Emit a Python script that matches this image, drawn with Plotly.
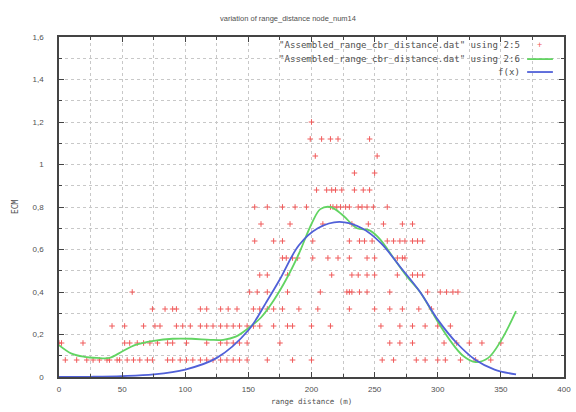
import plotly.graph_objects as go

# ---------------- data ----------------
# scatter points (red "+"), grouped by their discrete y level
levels = [0.08, 0.16, 0.24, 0.32, 0.40, 0.48, 0.56, 0.64, 0.72, 0.80, 0.88, 0.96, 1.04, 1.12, 1.20]
rows_x = [
    [5, 14, 22, 27, 32, 38, 40, 46, 48, 54, 59, 64, 70, 74, 86, 90, 96, 101, 106, 112, 117, 122,
     128, 133, 138, 143, 149, 165, 185, 200, 256, 265, 283, 290, 300, 306, 318, 330, 342],
    [0, 2, 19, 52, 56, 62, 67, 72, 78, 86, 90, 101, 117, 128, 133, 138, 143, 149, 175,
     262, 270, 280, 305, 315, 325, 335, 350],
    [42, 52, 67, 76, 80, 93, 98, 104, 112, 117, 122, 128, 133, 138, 143, 149, 154, 159, 170,
     181, 185, 200, 215, 255, 270, 280, 290, 300, 310],
    [74, 84, 90, 93, 112, 117, 128, 134, 141, 154, 159, 165, 170, 177, 190, 205, 230, 250,
     262, 272, 285, 295],
    [58, 151, 157, 165, 181, 207, 228, 230, 232, 238, 244, 262, 292, 302, 307, 312, 316],
    [159, 165, 181, 216, 232, 237, 244, 250, 268, 280, 284, 288],
    [177, 180, 185, 189, 201, 213, 221, 230, 244, 250, 268, 272, 274],
    [155, 170, 177, 201, 230, 238, 242, 248, 260, 265, 270, 274, 280, 284, 288],
    [160, 183, 209, 232, 245, 257, 272, 280],
    [155, 165, 177, 187, 196, 215, 217, 220, 223, 227, 230, 237, 240, 244, 249, 260],
    [204, 212, 216, 219, 224, 234, 241, 246],
    [234, 250],
    [203, 252],
    [199, 208, 215, 221, 246],
    [200],
]

# smoothed data curve (green)
green_x = [0, 10, 20, 30, 40, 50, 60, 75, 90, 105, 120, 130, 140, 150, 160, 170, 180, 190,
           200, 207, 215, 225, 236, 246, 254, 265, 276, 286, 300, 310, 320, 330, 340, 350, 362]
green_y = [0.15, 0.11, 0.095, 0.09, 0.09, 0.12, 0.15, 0.17, 0.18, 0.18, 0.175, 0.175, 0.19,
           0.23, 0.28, 0.36, 0.46, 0.58, 0.72, 0.79, 0.80, 0.76, 0.70, 0.69, 0.65, 0.56, 0.47,
           0.40, 0.26, 0.17, 0.10, 0.07, 0.09, 0.17, 0.31]

# fitted function f(x) (blue)
blue_x = [0, 25, 50, 75, 100, 125, 150, 165, 175, 190, 205, 222, 240, 255, 270, 286, 300,
          315, 330, 345, 362]
blue_y = [0.0, 0.001, 0.004, 0.012, 0.035, 0.09, 0.22, 0.36, 0.46, 0.62, 0.70, 0.73, 0.70,
          0.63, 0.52, 0.40, 0.27, 0.16, 0.08, 0.035, 0.012]

title_text = "variation of range_distance node_num14"
x_label = "range distance (m)"
y_label = "ECM"
legend_labels = ['"Assembled_range_cbr_distance.dat" using 2:5',
                 '"Assembled_range_cbr_distance.dat" using 2:6',
                 'f(x)']

RED = "#f05a5a"
GREEN = "#62d462"
BLUE = "#5060d8"
FONT = "Liberation Sans"
MONO = "DejaVu Sans Mono"
TXT = "#505050"

# ---------------- figure ----------------
pts_x, pts_y = [], []
for lv, xs in zip(levels, rows_x):
    for xv in xs:
        pts_x.append(xv)
        pts_y.append(lv)

fig = go.Figure()
fig.add_trace(go.Scatter(
    x=pts_x, y=pts_y, mode="markers",
    marker=dict(symbol="cross-thin", size=4, line=dict(color=RED, width=1), color=RED),
    showlegend=False, hoverinfo="skip"))
fig.add_trace(go.Scatter(
    x=green_x, y=green_y, mode="lines", line=dict(color=GREEN, width=1.8, shape="spline"),
    showlegend=False))
fig.add_trace(go.Scatter(
    x=blue_x, y=blue_y, mode="lines", line=dict(color=BLUE, width=1.8, shape="spline"),
    showlegend=False))

grid_col = "#c8c8c8"
axis_common = dict(
    automargin=False,
    showline=True, linecolor="#444444", linewidth=1.5, mirror="allticks",
    ticks="inside", ticklen=5, tickcolor="#444444", tickwidth=1,
    showgrid=True, gridcolor=grid_col, griddash="dot", gridwidth=1,
    zeroline=False, tickfont=dict(family=FONT, size=8, color=TXT),
)
fig.update_xaxes(range=[0, 400], dtick=50, tick0=0, ticklabelstandoff=4,
                 minor=dict(dtick=25, ticks="inside", ticklen=3, tickcolor="#444444",
                            showgrid=True, gridcolor=grid_col, griddash="dot"),
                 **axis_common)
fig.update_yaxes(range=[0, 1.6], dtick=0.2, tick0=0, ticklabelstandoff=12,
                 minor=dict(dtick=0.1, ticks="inside", ticklen=3, tickcolor="#444444",
                            showgrid=True, gridcolor=grid_col, griddash="dot"),
                 **axis_common)

# legend drawn gnuplot-style (text, then sample)
leg_y = [0.976, 0.935, 0.897]
annotations = []
shapes = []
for i, lab in enumerate(legend_labels):
    annotations.append(dict(x=0.917, y=leg_y[i], xref="paper", yref="paper", text=lab,
                            showarrow=False, xanchor="right", yanchor="middle",
                            font=dict(family=MONO, size=9.1, color=TXT)))
annotations.append(dict(x=0.952, y=leg_y[0], xref="paper", yref="paper", text="+",
                        showarrow=False, xanchor="center", yanchor="middle",
                        font=dict(family=FONT, size=9, color=RED)))
for i, col in ((1, GREEN), (2, BLUE)):
    shapes.append(dict(type="line", xref="paper", yref="paper", x0=0.927, x1=0.978,
                       y0=leg_y[i], y1=leg_y[i], line=dict(color=col, width=1.8)))

annotations.append(dict(x=0.5, y=-0.0735, xref="paper", yref="paper", text=x_label,
                        showarrow=False, xanchor="center", yanchor="middle",
                        font=dict(family=MONO, size=7.5, color=TXT)))
annotations.append(dict(x=-0.087, y=0.5, xref="paper", yref="paper", text=y_label,
                        showarrow=False, xanchor="center", yanchor="middle", textangle=-90,
                        font=dict(family=MONO, size=8, color=TXT)))

fig.update_layout(
    width=576, height=412,
    margin=dict(l=59, r=12, t=37, b=35),
    paper_bgcolor="white", plot_bgcolor="white",
    separators=", ",
    title=dict(text=title_text, x=0.5, xref="container", xanchor="center",
               y=1 - 18 / 412, yref="container", yanchor="middle",
               font=dict(family=FONT, size=7.5, color=TXT)),
    annotations=annotations, shapes=shapes, showlegend=False,
)

fig.write_html(
    "out.html",
    config={"displayModeBar": False},
    post_script="document.body.style.margin='0';document.body.style.overflow='hidden';",
)
